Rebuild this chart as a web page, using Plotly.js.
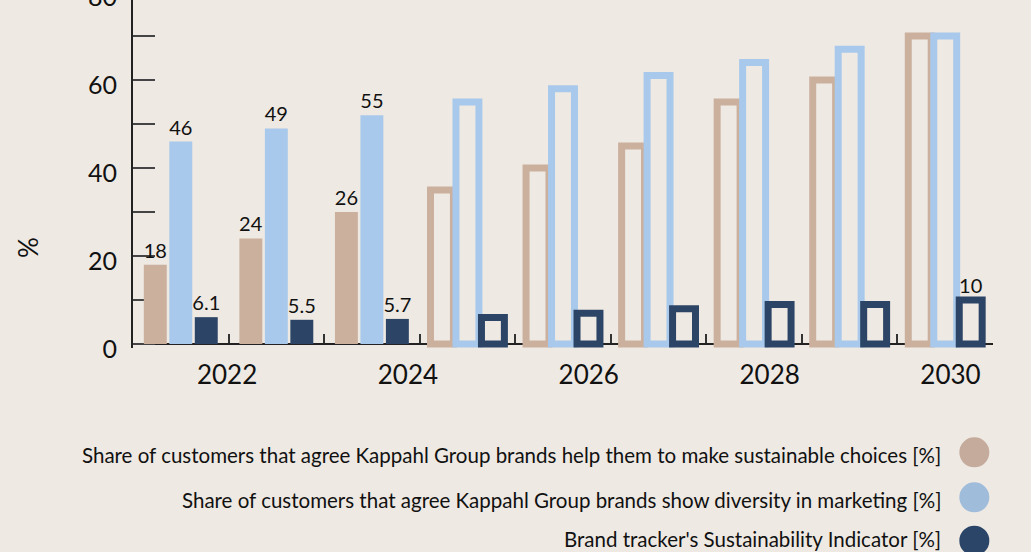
<!DOCTYPE html>
<html>
<head>
<meta charset="utf-8">
<script src="https://cdn.plot.ly/plotly-3.0.1.min.js"></script>
<style>
  html, body { margin: 0; padding: 0; background: #EEE9E3; overflow: hidden; }
  #chart { position: absolute; left: 0; top: -40px; width: 1031px; height: 592px; }
</style>
</head>
<body>
<div id="chart"></div>
<script>
// ---- data ----
const years = ['2022', '2023', '2024', '2025', '2026', '2027', '2028', '2029', '2030'];
const status = ['actual', 'actual', 'actual', 'target', 'target', 'target', 'target', 'target', 'target'];
const sustainableChoices = [18, 24, 30, 35, 40, 45, 55, 60, 70];
const diversityMarketing = [46, 49, 52, 55, 58, 61, 64, 67, 70];
const sustainabilityIndicator = [6.1, 5.5, 5.7, 6, 7, 8, 9, 9, 10];
const sustainableChoicesLabels = ['18', '24', '26', '', '', '', '', '', ''];
const diversityMarketingLabels = ['46', '49', '55', '', '', '', '', '', ''];
const sustainabilityIndicatorLabels = ['6.1', '5.5', '5.7', '', '', '', '', '', '10'];
const seriesNames = [
  'Share of customers that agree Kappahl Group brands help them to make sustainable choices [%]',
  'Share of customers that agree Kappahl Group brands show diversity in marketing [%]',
  "Brand tracker's Sustainability Indicator [%]"
];
const yearTickLabels = [2022, 2024, 2026, 2028, 2030];
const yTitle = '%';

// ---- style ----
const BG = '#EEE9E3';
const FONT = 'Lato, "Open Sans", sans-serif';
const barColors = ['#CBB09E', '#A8C9EB', '#2C4466'];
const legendColors = ['#C5AB9B', '#9FBCDB', '#2A4567'];

function makeBar(values, labels, name, color) {
  return {
    type: 'bar',
    name: name,
    x: years,
    y: values,
    text: labels,
    textposition: 'outside',
    cliponaxis: false,
    constraintext: 'none',
    textfont: { family: FONT, size: 20, color: '#111' },
    marker: {
      color: status.map(s => s === 'target' ? BG : color),
      line: { color: color, width: status.map(s => s === 'target' ? 7 : 0) }
    },
    hoverinfo: 'x+y',
    showlegend: false
  };
}

const traces = [
  makeBar(sustainableChoices, sustainableChoicesLabels, seriesNames[0], barColors[0]),
  makeBar(diversityMarketing, diversityMarketingLabels, seriesNames[1], barColors[1]),
  makeBar(sustainabilityIndicator, sustainabilityIndicatorLabels, seriesNames[2], barColors[2]),
  { type: 'scatter', x: yearTickLabels, y: yearTickLabels.map(() => null), xaxis: 'x2', yaxis: 'y',
    mode: 'markers', showlegend: false, hoverinfo: 'skip' }
];

const legendY = [-0.297, -0.422, -0.531];
const circleY = [-0.2897, -0.4147, -0.5353];

const annotations = seriesNames.map((n, i) => ({
  xref: 'paper', yref: 'paper', x: 0.9419, y: legendY[i],
  xanchor: 'right', yanchor: 'middle', text: n, showarrow: false,
  font: { family: FONT, size: 20.5, color: '#111' }
}));
annotations.push({
  xref: 'paper', yref: 'paper', x: -0.1221, y: 0.2806, xanchor: 'center', yanchor: 'middle',
  text: yTitle, textangle: -90, showarrow: false, font: { family: FONT, size: 26, color: '#111' }
});

const shapes = legendColors.map((c, i) => ({
  type: 'circle', xref: 'paper', yref: 'paper', xsizemode: 'pixel', ysizemode: 'pixel',
  xanchor: 0.9783, yanchor: circleY[i], x0: -15, x1: 15, y0: -15, y1: 15,
  fillcolor: c, line: { width: 0 }
}));

const layout = {
  width: 1031, height: 592,
  margin: { l: 133, r: 38, t: 28, b: 204, pad: 0 },
  paper_bgcolor: BG, plot_bgcolor: BG,
  font: { family: FONT, color: '#111' },
  barmode: 'group', bargap: 0.2, bargroupgap: 0.1,
  xaxis: {
    type: 'category', anchor: 'free', position: 0.0111,
    range: [-0.5, 8.5], fixedrange: true, layer: 'below traces',
    showline: true, linecolor: '#222', linewidth: 2,
    ticks: 'inside', tickson: 'boundaries', ticklen: 9, tickwidth: 2, tickcolor: '#333',
    showticklabels: false, showgrid: false, zeroline: false
  },
  xaxis2: {
    overlaying: 'x', anchor: 'y', side: 'bottom', range: [2020.96, 2030.47],
    tickvals: yearTickLabels, ticktext: yearTickLabels.map(String),
    showline: false, ticks: '', showgrid: false, zeroline: false,
    tickfont: { family: FONT, size: 26, color: '#111' }, ticklabelstandoff: 9
  },
  yaxis: {
    range: [-0.909, 80.91], fixedrange: true, layer: 'below traces',
    tick0: 0, dtick: 20, ticks: 'inside', ticklen: 22, tickwidth: 2, tickcolor: '#444',
    minor: { tick0: 0, dtick: 10, ticks: 'inside', ticklen: 22, tickwidth: 2, tickcolor: '#444', showgrid: false },
    showline: true, linecolor: '#222', linewidth: 2,
    showgrid: false, zeroline: false,
    tickfont: { family: FONT, size: 25, color: '#111' }, ticklabelstandoff: 9, ticklabelshift: 5
  },
  annotations: annotations,
  shapes: shapes
};

Plotly.newPlot('chart', traces, layout, { displayModeBar: false, staticPlot: true });
</script>
</body>
</html>
